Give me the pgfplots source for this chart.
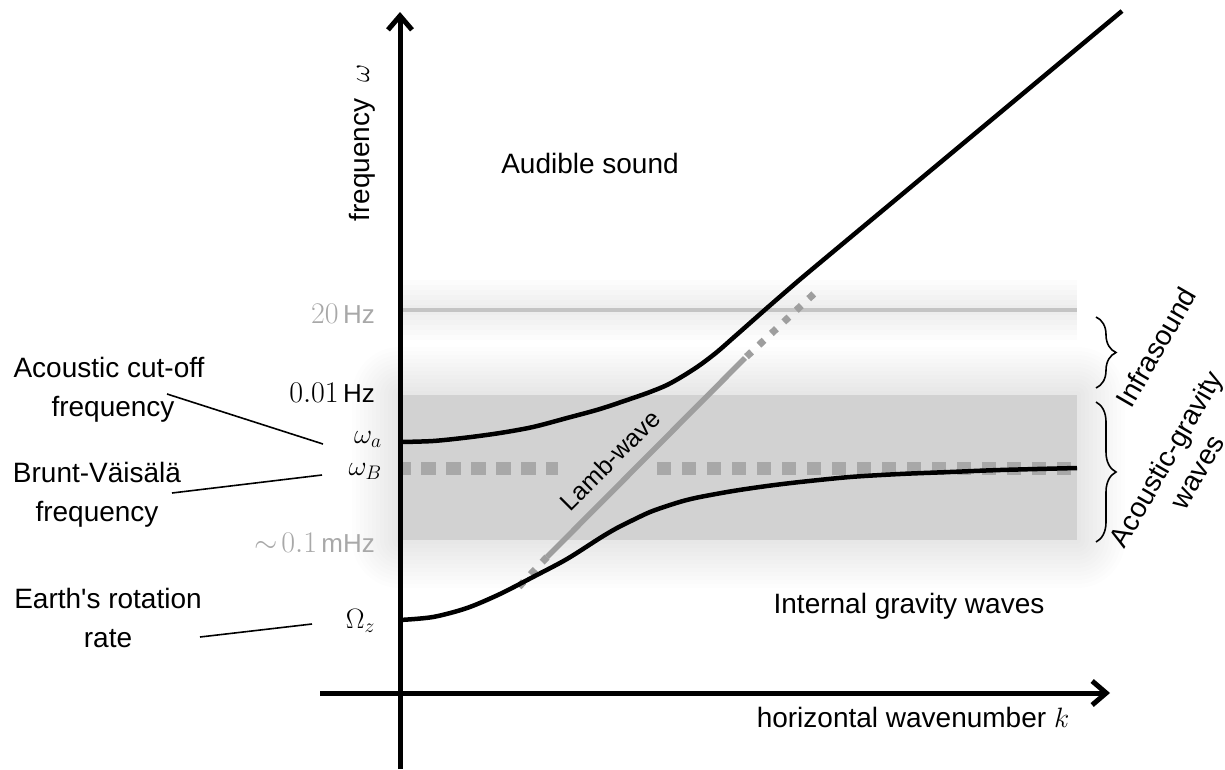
\RequirePackage{fix-cm}
\documentclass[border=0pt]{standalone}
\usepackage{pgfplots}
\pgfplotsset{compat=1.18}
\usepackage{fontspec}
\setmainfont{Liberation Sans}[Ligatures=TeXOff]
\usetikzlibrary{arrows.meta,decorations.pathreplacing}
\newcommand\fs{\fontsize{28}{34}\selectfont}
\newcommand\fl{\fontsize{26}{31}\selectfont}
\newcommand\num[1]{{\fontsize{30}{34}\selectfont$#1$}}
\definecolor{lgray}{gray}{0.66}
\definecolor{dgray}{gray}{0.62}
\definecolor{hzgray}{gray}{0.77}
\begin{document}
\begin{tikzpicture}
% ---- background shading (pixel coordinates, y downward)
\begin{scope}[x=1pt,y=-1pt,yshift=769pt]
  \foreach \w in {10,20,30,40,50,60}{
    \draw[black,opacity=0.011,line width=\w pt] (400,310) -- (1077,310);
  }
  \foreach \d in {4,8,...,48}{
    \fill[black,opacity=0.006,rounded corners=\d pt] ({400-\d},{395-\d}) rectangle ({1077+\d},{540+\d});
  }
  \fill[black,opacity=0.09] (400,395) rectangle (1077,540);
\end{scope}
\begin{axis}[scale only axis, width=1225pt, height=769pt,
  xmin=0, xmax=1225, ymin=0, ymax=769, y dir=reverse,
  hide axis, clip=false, at={(612.5pt,384.5pt)}, anchor=center]
% 20 Hz line
\addplot[hzgray, line width=4.5pt] coordinates {(400,310) (1077,310)};
% Brunt-Vaisala frequency (dashed)
\addplot[lgray, line width=13pt, dash pattern=on 15pt off 10pt, dash phase=4pt] coordinates {(400,468) (558,468)};
\addplot[lgray, line width=13pt, dash pattern=on 14pt off 11pt] coordinates {(657,468) (1077,468)};
% Lamb wave
\addplot[dgray, line width=5.5pt] coordinates {(547,557) (745,358)};
\addplot[dgray, line width=7pt, dash pattern=on 7pt off 10pt] coordinates {(547,557) (513,593)};
\addplot[dgray, line width=7pt, dash pattern=on 7pt off 10pt, dash phase=-2pt] coordinates {(745,358) (818,290)};
% acoustic branch
\addplot[black, line width=4.5pt, smooth] coordinates {
 (400,442) (433,441) (467,437.5) (500,433) (533,427) (567,418) (600,409)
 (633,398) (650,392) (667,385) (683,376) (700,365) (717,352) (733,338)
 (750,323) (767,308) (790,288) (810,271) (900,196) (1000,112.7) (1122,11)};
% gravity branch
\addplot[black, line width=4.5pt, smooth] coordinates {
 (400,620) (433,617) (467,608) (500,594) (533,577) (567,559) (600,538)
 (617,528) (633,520) (650,512) (667,506) (683,501) (700,497) (733,491)
 (767,486) (800,482) (850,477) (900,474) (950,472) (1000,470) (1077,468)};
% axes
\draw[line width=5pt, -{Straight Barb[length=14pt,width=24pt]}] (axis cs:400,769) -- (axis cs:400,12);
\draw[line width=5pt, -{Straight Barb[length=14pt,width=24pt]}] (axis cs:320,693) -- (axis cs:1110,693);
% axis labels
\node[rotate=90, font=\fs, inner sep=0pt] at (axis cs:362,143) {frequency\hspace{16pt}$\omega$};
\node[anchor=base, font=\fs, inner sep=0pt] at (axis cs:913,727) {horizontal wavenumber $k$};
% region labels
\node[anchor=base, font=\fs, inner sep=0pt] at (axis cs:590,173) {Audible sound};
\node[anchor=base, font=\fs, inner sep=0pt] at (axis cs:909,613) {Internal gravity waves};
\node[rotate=45, font=\fontsize{25}{30}\selectfont, inner sep=0pt] at (axis cs:610,460) {Lamb-wave};
% y-side labels
\node[anchor=base east, font=\fl, text=lgray, inner sep=0pt] at (axis cs:375,323) {\num{20}\,Hz};
\node[anchor=base east, font=\fl, inner sep=0pt] at (axis cs:375,402) {\num{0.01}\,Hz};
\node[anchor=base east, font=\fs, inner sep=0pt] at (axis cs:382,443) {$\omega_a$};
\node[anchor=base east, font=\fs, inner sep=0pt] at (axis cs:382,475) {$\omega_B$};
\node[anchor=base east, font=\fl, text=lgray, inner sep=0pt] at (axis cs:375,552) {\num{\sim\!0.1}\,mHz};
\node[anchor=base east, font=\fs, inner sep=0pt] at (axis cs:375,628) {$\Omega_z$};
% left descriptions
\node[anchor=base, font=\fs, inner sep=0pt] at (axis cs:109,377) {Acoustic cut-off};
\node[anchor=base, font=\fs, inner sep=0pt] at (axis cs:113,416) {frequency};
\node[anchor=base, font=\fs, inner sep=0pt] at (axis cs:97,482) {Brunt-Väisälä};
\node[anchor=base, font=\fs, inner sep=0pt] at (axis cs:97,521) {frequency};
\node[anchor=base, font=\fs, inner sep=0pt] at (axis cs:108,608) {Earth's rotation};
\node[anchor=base, font=\fs, inner sep=0pt] at (axis cs:108,647) {rate};
\draw[line width=1.6pt] (axis cs:167,394) -- (axis cs:323,444);
\draw[line width=1.6pt] (axis cs:172,493) -- (axis cs:322,475);
\draw[line width=1.6pt] (axis cs:200,637) -- (axis cs:312,624);
% braces
\draw[line width=1.6pt, decorate, decoration={brace, amplitude=20pt, aspect=0.5}] (axis cs:1096,317) -- (axis cs:1096,388);
\draw[line width=1.6pt, decorate, decoration={brace, amplitude=20pt, aspect=0.5}] (axis cs:1096,402) -- (axis cs:1096,542);
\node[rotate=60, font=\fs, inner sep=0pt] at (axis cs:1156,347) {Infrasound};
\node[rotate=60, font=\fs, inner sep=0pt] at (axis cs:1168,460) {Acoustic-gravity};
\node[rotate=60, font=\fs, inner sep=0pt] at (axis cs:1199,473) {waves};
\end{axis}
\pgfresetboundingbox
\useasboundingbox (0,0) rectangle (1225pt,769pt);
\end{tikzpicture}
\end{document}
